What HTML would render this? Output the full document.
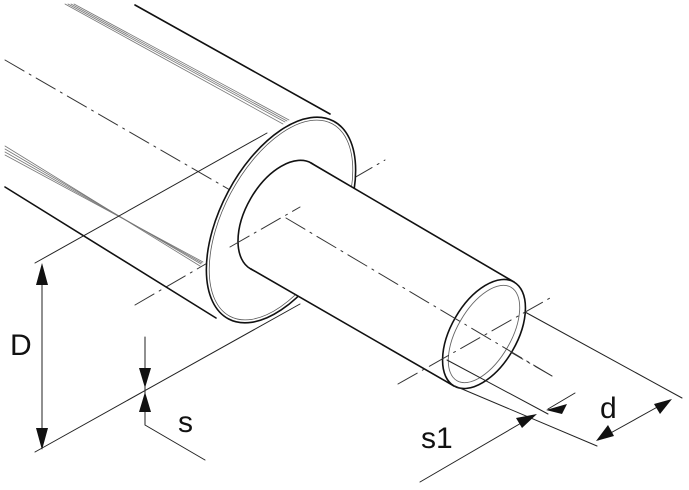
<!DOCTYPE html>
<html><head><meta charset="utf-8"><style>
html,body{margin:0;padding:0;background:#fff;}
svg{display:block;}
text{font-family:"Liberation Sans",sans-serif;fill:#111;}
</style></head><body>
<svg width="689" height="490" viewBox="0 0 689 490" xmlns="http://www.w3.org/2000/svg">
<g fill="none" stroke-linecap="round">
<g stroke="#777" stroke-width="0.8">
<path d="M65 4 L283 124"/><path d="M68 4 L285 122"/><path d="M71 4 L287 121"/><path d="M74 4 L289 120"/>
<path d="M5 146 L200 266"/><path d="M5 149 L201 264"/><path d="M5 152 L202 263"/><path d="M5 155 L203 262"/>
</g>
<g stroke="#333" stroke-width="1" stroke-dasharray="22,6,2,6">
<path d="M5 60 L552 376"/>
<path d="M135 305 L385 160"/>
</g>
<path d="M135 5 L330 114" stroke="#111" stroke-width="1.6"/>
<path d="M5 187 L216 318" stroke="#111" stroke-width="1.6"/>
<ellipse cx="281" cy="220" rx="60" ry="112" transform="rotate(28 281 220)" fill="#fff" stroke="#111" stroke-width="1.6"/>
<ellipse cx="281" cy="220" rx="57" ry="109" transform="rotate(28 281 220)" stroke="#555" stroke-width="0.8"/>
<ellipse cx="281" cy="216" rx="35" ry="61" transform="rotate(30 281 216)" stroke="#111" stroke-width="1.6"/>
<path d="M311 163 L514 282 L454 386 L251 269 Z" fill="#fff" stroke="none"/>
<path d="M311 163 L514 282" stroke="#111" stroke-width="1.6"/>
<path d="M251 269 L454 386" stroke="#111" stroke-width="1.6"/>
<ellipse cx="484" cy="334" rx="33" ry="60" transform="rotate(30 484 334)" fill="#fff" stroke="#111" stroke-width="1.6"/>
<ellipse cx="484" cy="334" rx="27" ry="54" transform="rotate(30 484 334)" stroke="#666" stroke-width="0.9"/>
<g stroke="#333" stroke-width="1" stroke-dasharray="22,6,2,6">
<path d="M286 218 L552 376"/>
<path d="M398 384 L550 298"/>
<path d="M230 247 L300 207"/>
</g>
<g stroke="#222" stroke-width="1">
<path d="M35 263 L267 133"/>
<path d="M35 452 L300 304"/>
<path d="M42 265 L42 448"/>
<path d="M145 337 L145 425 L205 460"/>
<path d="M447 360 L548 414"/>
<path d="M455 386 L597 446"/>
<path d="M525 312 L682 398"/>
<path d="M420 482 L535 415"/>
<path d="M575 393 L548 409"/>
<path d="M598 440 L670 400"/>
</g>
<g fill="#111" stroke="none">
<path d="M42 263 L36 285 L48 285 Z"/>
<path d="M42 450 L36 428 L48 428 Z"/>
<path d="M145 388 L139 368 L151 368 Z"/>
<path d="M145 392 L139 412 L151 412 Z"/>
<path d="M537 414 L516 418 L522 428 Z"/>
<path d="M546 410 L567 404 L562 414 Z"/>
<path d="M596 441 L608 425 L614 436 Z"/>
<path d="M672 399 L660 414 L654 404 Z"/>
</g>
</g>
<text x="10" y="355" font-size="30">D</text>
<text x="178" y="432" font-size="30">s</text>
<text x="421" y="448" font-size="30">s1</text>
<text x="600" y="418" font-size="30">d</text>
</svg>
</body></html>
